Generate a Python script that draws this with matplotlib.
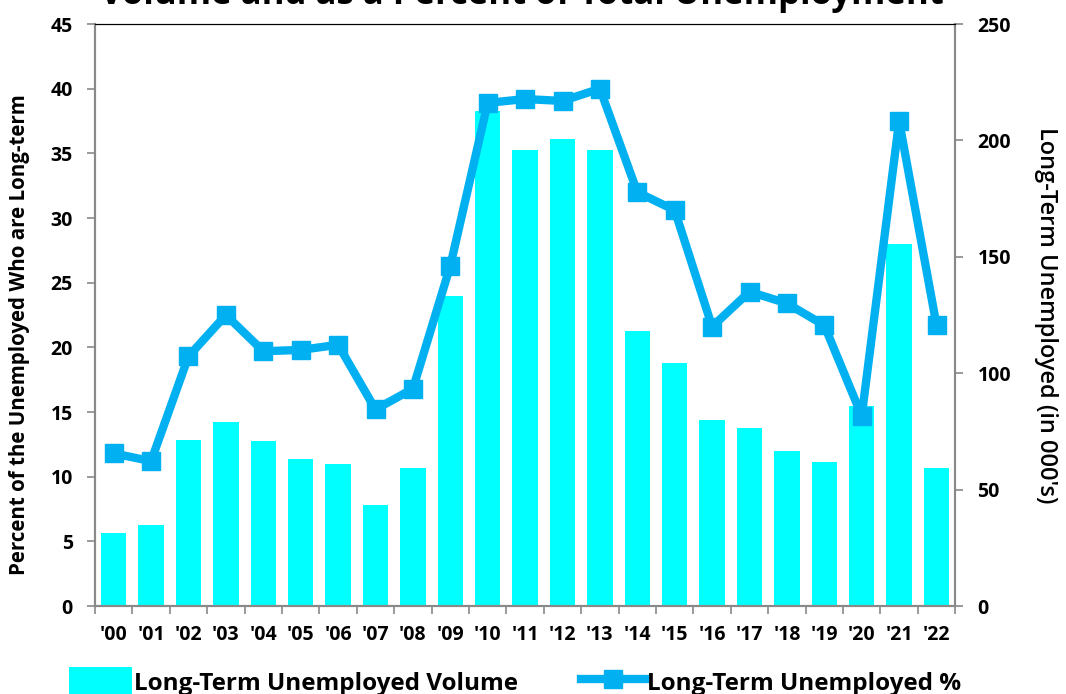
import numpy as np
import matplotlib
matplotlib.use("Agg")
import matplotlib.pyplot as plt
from matplotlib.lines import Line2D
from matplotlib.patches import Patch

plt.rcParams["font.family"] = ["Open Sans", "DejaVu Sans"]

years = ["'00", "'01", "'02", "'03", "'04", "'05", "'06", "'07", "'08", "'09", "'10",
         "'11", "'12", "'13", "'14", "'15", "'16", "'17", "'18", "'19", "'20", "'21", "'22"]
# long-term unemployed volume (000's), right axis
volume = [31.4, 34.7, 71.3, 79.2, 70.9, 63.1, 61.1, 43.6, 59.1, 133.2, 212.8,
          196.0, 200.6, 196.0, 118.3, 104.2, 80.0, 76.6, 66.5, 61.7, 86.1, 155.4, 59.1]
# long-term share of unemployed (%), left axis
percent = [11.8, 11.2, 19.3, 22.5, 19.7, 19.8, 20.2, 15.2, 16.8, 26.3, 38.9,
           39.2, 39.05, 40.0, 32.0, 30.6, 21.6, 24.3, 23.4, 21.7, 14.7, 37.5, 21.7]

CYAN = "#00FFFF"
BLUE = "#00B0F0"
GRIS = "#898989"

fig = plt.figure(figsize=(10.66, 6.94), dpi=100)
ax = fig.add_axes([0.0891, 0.1268, 0.807, 0.8386])
ax2 = ax.twinx()

x = np.arange(len(years))
ax2.bar(x, volume, width=0.68, color=CYAN, zorder=2)
ax.plot(x, percent, color=BLUE, lw=6, marker="s", ms=12.5, zorder=3)

# ligne au-dessus des barres
ax.set_zorder(ax2.get_zorder() + 1)
ax.patch.set_visible(False)

ax.set_xlim(-0.5, len(years) - 0.5)
ax.set_ylim(0, 45)
ax.set_yticks(np.arange(0, 46, 5))
ax2.set_ylim(0, 250)
ax2.set_yticks(np.arange(0, 251, 50))

ax.set_xticks(x)
ax.set_xticklabels(years)
ax.set_xticks(np.arange(-0.5, len(years)), minor=True)
ax.tick_params(axis="x", which="major", length=0, pad=14, labelsize=14)
ax.tick_params(axis="x", which="minor", length=6, width=1.2, color=GRIS, direction="out")
for lab in ax.get_xticklabels():
    lab.set_fontweight("bold")

ax.tick_params(axis="y", length=6, width=1.2, color=GRIS, labelsize=14, pad=10)
ax2.tick_params(axis="y", length=6, width=1.2, color=GRIS, labelsize=14, pad=10)
for lab in ax.get_yticklabels() + ax2.get_yticklabels():
    lab.set_fontweight("bold")

for a in (ax, ax2):
    for s in ("left", "bottom", "right"):
        a.spines[s].set_color(GRIS)
        a.spines[s].set_linewidth(1.5)
    a.spines["top"].set_color("black")
    a.spines["top"].set_linewidth(0.8)

ax.set_ylabel("Percent of the Unemployed Who are Long-term", fontsize=14.8,
              fontweight="bold")
ax.yaxis.set_label_coords(-0.075, 0.467)
ax2.set_ylabel("Long-Term Unemployed (in 000's)", fontsize=17, fontweight="semibold",
               rotation=270, labelpad=34)

fig.text(0.49, 1 - 4 / 694, "Volume and as a Percent of Total Unemployment",
         ha="center", va="baseline", fontsize=25, fontweight="bold")

handles = [Patch(facecolor=CYAN, edgecolor="none"),
           Line2D([], [], color=BLUE, lw=6, marker="s", ms=12.5)]
fig.legend(handles, ["Long-Term Unemployed Volume", "Long-Term Unemployed %"],
           loc="center", bbox_to_anchor=(0.483, 0.018), ncol=2, frameon=False,
           prop={"size": 17.5, "weight": "bold"}, handlelength=2.6, handleheight=1.4,
           handletextpad=0.1, columnspacing=2.6)

plt.savefig("out.png", dpi=100)
